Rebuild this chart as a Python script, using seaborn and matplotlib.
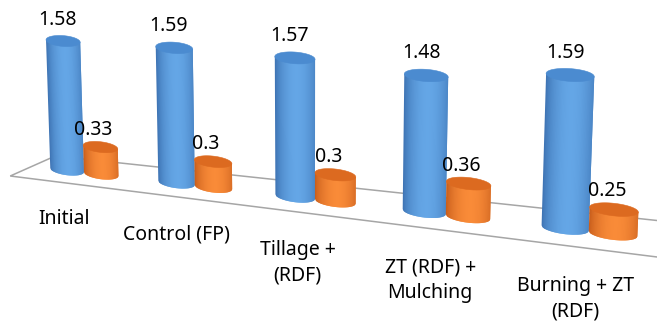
import numpy as np
import pandas as pd
import matplotlib as mpl
mpl.use('Agg')
import matplotlib.pyplot as plt
from matplotlib.transforms import Transform, IdentityTransform
from matplotlib.collections import PolyCollection
from matplotlib.patches import Polygon
from matplotlib.colors import to_rgb
import seaborn as sns

# data
treatments = ['Initial', 'Control (FP)', 'Tillage +\n(RDF)', 'ZT (RDF) +\nMulching', 'Burning + ZT\n(RDF)']
series_names = ['Series1', 'Series2']
series1 = [1.58, 1.59, 1.57, 1.48, 1.59]
series2 = [0.33, 0.30, 0.30, 0.36, 0.25]

BLUE = '#5b9bd5'
ORANGE = '#ed7d31'
# (dark edge, light centre, top ellipse) per series
SHADES = [('#3b70b0', '#64a6e6', '#4b8bd0'),
          ('#c45a1a', '#f98b38', '#dc6a20')]


def homography(src, dst):
    A, b = [], []
    for (x, y), (u, v) in zip(src, dst):
        A.append([x, y, 1, 0, 0, 0, -u * x, -u * y]); b.append(u)
        A.append([0, 0, 0, x, y, 1, -v * x, -v * y]); b.append(v)
    h = np.linalg.solve(np.array(A, float), np.array(b, float))
    return np.append(h, 1).reshape(3, 3)


class Perspective(Transform):
    input_dims = output_dims = 2
    is_separable = False
    has_inverse = False

    def __init__(self, H):
        super().__init__()
        self.H = H

    def transform_non_affine(self, values):
        values = np.asarray(values, float)
        p = np.column_stack([values, np.ones(len(values))]) @ self.H.T
        return p[:, :2] / p[:, 2:3]


df = pd.DataFrame({
    'treatment': treatments * 2,
    'series': [series_names[0]] * len(treatments) + [series_names[1]] * len(treatments),
    'value': series1 + series2,
})

W, Hpx = 657, 326
fig = plt.figure(figsize=(W / 100, Hpx / 100), dpi=100)
ax = fig.add_axes([0, 0, 1, 1])
sns.barplot(data=df, x='treatment', y='value', hue='series', palette=[BLUE, ORANGE],
            saturation=1, width=0.64, gap=0, legend=False, ax=ax)
ax.set_xlim(-0.5, 4.5)
ax.set_ylim(0, 2)
ax.axis('off')
plt.rcParams['font.family'] = ['Noto Sans', 'DejaVu Sans']

# perspective of the bar plane: data -> picture pixels
src = ax.transData.transform([(-0.16, 1.58), (-0.16, 0), (3.84, 1.59), (3.84, 0)])
dst = np.array([(63, 41), (67, 170), (570, 75), (565, 228)], float)
dst[:, 1] = Hpx - dst[:, 1]
persp = ax.transData + Perspective(homography(src, dst))

# floor
lm = persp.transform((-0.49, 0))
rm = persp.transform((4.48, 0))
floor = [lm + (22.5, 10), rm + (2.5, 18), rm + (-2.5, -18), lm + (-22.5, -10)]
ax.add_patch(Polygon(floor, closed=True, facecolor='white', edgecolor='#a6a6a6',
                     lw=1.1, transform=IdentityTransform(), zorder=0))

E = 0.065  # half height of the cylinder ellipses (value units)
N = 40
for s, cont in enumerate(ax.containers):
    dark, light, top = SHADES[s]
    z = 2 + s
    for p in cont:
        x0, w, v = p.get_x(), p.get_width(), p.get_height()
        c, r = x0 + w / 2, w / 2
        p.set_transform(persp)
        p.set_visible(False)
        xs = np.linspace(x0, x0 + w, N + 1)
        step = xs[1] - xs[0]
        polys, cols = [], []
        for a in xs[:-1]:
            b = min(a + 2 * step, x0 + w)  # overlap strips to hide seams
            curve = np.linspace(a, b, 4)
            bottom = -E * np.sqrt(np.clip(1 - ((curve - c) / r) ** 2, 0, 1))
            polys.append([(a, v), (b, v)] + list(zip(curve[::-1], bottom[::-1])))
            t = (a + step / 2 - c) / r
            k = np.clip(np.cos((t - 0.1) * np.pi / 2.2), 0, 1) ** 0.7
            cols.append(np.array(to_rgb(dark)) * (1 - k) + np.array(to_rgb(light)) * k)
        ax.add_collection(PolyCollection(polys, facecolors=cols, edgecolors='none',
                                         transform=persp, zorder=z))
        th = np.linspace(0, 2 * np.pi, 80)
        ax.add_patch(Polygon(np.column_stack([c + r * np.cos(th), v + E * np.sin(th)]),
                             closed=True, facecolor=top, edgecolor=top, lw=0.4,
                             transform=persp, zorder=z))
        ax.annotate('{:g}'.format(v), (c, v + E), xycoords=persp,
                    xytext=(-5 - 2 * s, 6 - 4 * s),
                    textcoords='offset pixels', ha='center', va='bottom', fontsize=14,
                    color='black', zorder=5)

# category labels sit on the front edge of the floor, spreading out a bit more
for i, lab in enumerate(treatments):
    ax.annotate(lab, (i * 1.03 - 0.2, -0.5), xycoords=persp, ha='center', va='top',
                fontsize=14, color='black', linespacing=1.35, zorder=5)

fig.savefig('out.png', dpi=100)
